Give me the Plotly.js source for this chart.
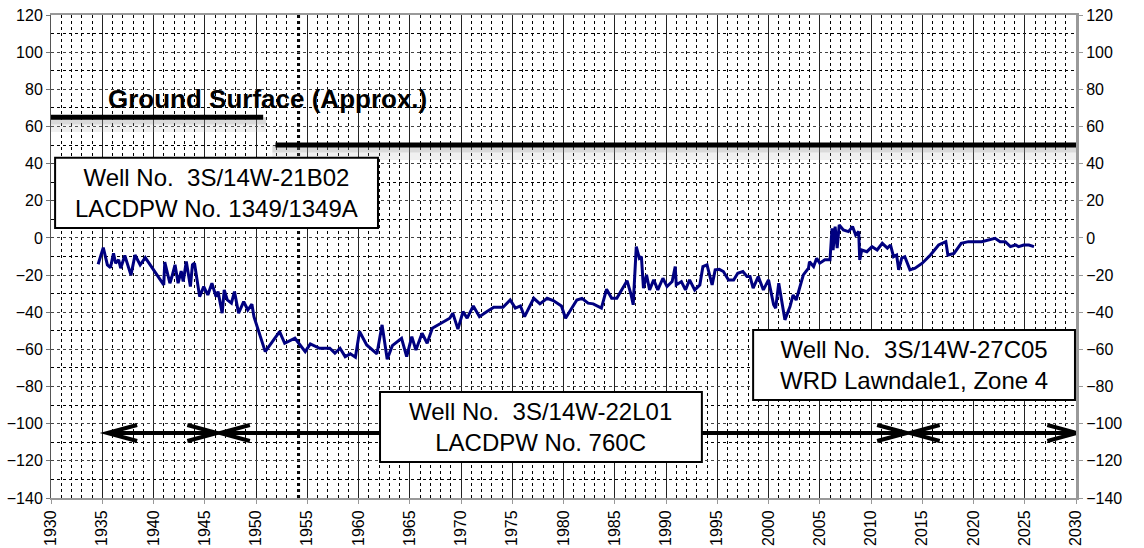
<!DOCTYPE html>
<html>
<head>
<meta charset="utf-8">
<script src="https://cdn.plot.ly/plotly-3.0.1.min.js"></script>
<style>
  html, body { margin: 0; padding: 0; background: #fff; }
  #hydrograph { width: 1144px; height: 548px; }
</style>
</head>
<body>
<div id="hydrograph"></div>
<script>
// water level readings (decimal year, elevation in ft)
var years = [
  1934.6, 1935.1, 1935.5, 1935.8, 1936.1, 1936.3, 1936.6, 1936.8, 1937.2, 1937.8,
  1938.2, 1938.7, 1939.2, 1939.8, 1941.0, 1941.1, 1941.6, 1941.8, 1942.1, 1942.4,
  1942.7, 1942.9, 1943.2, 1943.6, 1943.8, 1944.0, 1944.4, 1944.5, 1944.9, 1945.3,
  1945.7, 1946.1, 1946.3, 1946.7, 1946.9, 1947.2, 1947.6, 1947.9, 1948.3, 1948.8,
  1949.2, 1949.6, 1949.8, 1950.9, 1952.3, 1952.8, 1953.8, 1954.8, 1955.3, 1956.2,
  1957.2, 1957.7, 1958.2, 1958.7, 1959.2, 1959.7, 1960.1, 1960.8, 1961.8, 1962.3,
  1962.8, 1963.3, 1964.2, 1964.7, 1965.2, 1965.6, 1966.2, 1966.7, 1967.2, 1967.8,
  1968.4, 1968.9, 1969.2, 1969.7, 1970.2, 1970.6, 1971.2, 1971.8, 1972.5, 1973.2,
  1974.1, 1974.8, 1975.3, 1975.8, 1976.2, 1977.1, 1977.7, 1978.4, 1979.0, 1979.8,
  1980.2, 1980.8, 1981.3, 1981.8, 1982.4, 1982.9, 1983.7, 1984.2, 1984.7, 1985.2,
  1986.2, 1986.6, 1986.8, 1987.1, 1987.4, 1987.6, 1987.8, 1988.1, 1988.4, 1988.8,
  1989.2, 1989.7, 1990.1, 1990.6, 1990.9, 1991.0, 1991.5, 1991.9, 1992.3, 1992.8,
  1993.3, 1993.6, 1994.0, 1994.5, 1994.8, 1995.2, 1995.6, 1996.1, 1996.6, 1997.0,
  1997.5, 1997.9, 1998.2, 1998.5, 1999.0, 1999.5, 2000.0, 2000.5, 2000.7, 2001.0,
  2001.3, 2001.6, 2002.1, 2002.4, 2002.7, 2003.4, 2003.9, 2004.0, 2004.4, 2004.7,
  2005.0, 2005.5, 2006.0, 2006.2, 2006.3, 2006.5, 2006.7, 2006.9, 2007.3, 2007.8,
  2008.2, 2008.5, 2008.8, 2008.9, 2009.1, 2009.6, 2010.1, 2010.6, 2011.1, 2011.6,
  2011.9, 2012.2, 2012.5, 2012.7, 2013.0, 2013.3, 2013.8, 2014.3, 2015.0, 2015.8,
  2016.6, 2017.3, 2017.5, 2018.1, 2018.8, 2019.5, 2020.8, 2021.5, 2022.1, 2022.6,
  2023.1, 2023.6, 2024.1, 2024.4, 2024.9, 2025.4, 2025.9
];
var levels = [
  -14.2, -5.2, -14.5, -16, -8.3, -13.6, -11.8, -16.3, -9.5, -20,
  -9.2, -14.5, -10.6, -15.4, -25.3, -13, -24.4, -20.8, -14.5, -24.4,
  -17.8, -23.5, -12.7, -26.2, -14.5, -13.6, -27, -31.6, -26.2, -30.7,
  -24.4, -31.6, -28.9, -40.5, -28, -33.4, -35.1, -28.9, -40.5, -34.3,
  -38.8, -35.7, -42.4, -61.2, -50.4, -56.7, -54, -61.2, -57, -59.4,
  -59.4, -62, -59.4, -63.9, -62.4, -64.2, -50.4, -57.6, -62.4, -46.8,
  -65.3, -58, -54, -63.9, -53.1, -60.3, -51.3, -56.7, -48.6, -46.8,
  -45, -43.2, -40.5, -49.1, -39.7, -43.2, -36.6, -42.4, -39.7, -37.3,
  -37.3, -33.4, -37.8, -36.6, -42.4, -32.5, -35.5, -32.5, -33.7, -36.6,
  -43.2, -37.8, -33.4, -32.5, -35.1, -35.5, -37.8, -27.6, -32.5, -32.5,
  -23, -30.7, -36, -4.7, -10.9, -10.1, -27, -19.9, -28, -22.6,
  -28, -21.7, -26.2, -23.5, -15.4, -25.3, -23.5, -28, -22.6, -28,
  -25.3, -15.4, -14.5, -25.3, -17.2, -16.9, -18.1, -22.6, -22.6, -19,
  -18.1, -20.8, -20.8, -27, -20.8, -28, -22.6, -36, -37.8, -24.4,
  -33.4, -44.1, -37, -30.7, -33.4, -19.9, -16.3, -12.8, -15.4, -10.9,
  -13.6, -11.8, -11.8, 5.2, -6.5, 6.1, -5.5, 7, 4.3, 3.4,
  6.1, 1.6, 3.4, -11.8, -6.5, -7.4, -4.7, -6.5, -2.9, -5.5,
  -3.8, -10.1, -9.2, -17.2, -10.9, -10.1, -17.2, -16.3, -13.6, -9.2,
  -3.8, -2, -9.2, -8.3, -2.9, -2, -2, -1.1, -0.2, -2,
  -2, -4.7, -3.8, -4.7, -3.8, -3.8, -4.7
];

// approximate ground surface elevation
var groundFrom = [1930, 1951.9];
var groundTo = [1950.7, 2030];
var groundElev = [65, 50];

// periods of record for each well
var periodFrom = [1935.5, 1946.5, 2013.8];
var periodTo = [1946.2, 2013.5, 2030.1];

var wellLabels = [
  'Well No.\u00a0\u00a03S/14W-21B02<br>LACDPW No. 1349/1349A',
  'Well No.\u00a0\u00a03S/14W-22L01<br>LACDPW No. 760C',
  'Well No.\u00a0\u00a03S/14W-27C05<br>WRD Lawndale1, Zone 4'
];

var fontFam = 'Arial, "Liberation Sans", sans-serif';

var trace1 = {
  x: years,
  y: levels,
  type: 'scatter',
  mode: 'lines',
  line: { color: '#000080', width: 3 },
  hoverinfo: 'x+y',
};

// invisible trace so the right axis is drawn
var trace2 = {
  x: [1930],
  y: [0],
  yaxis: 'y2',
  type: 'scatter',
  mode: 'markers',
  marker: { opacity: 0 },
  hoverinfo: 'skip',
};

var shapes = [];

// heavy dotted marker line
shapes.push({
  type: 'line', xref: 'x', yref: 'paper', x0: 1954.2, x1: 1954.2, y0: 0, y1: 1,
  line: { color: '#000', width: 2, dash: 'dot' }, layer: 'below',
});

for (var i = 0; i < groundElev.length; i++) {
  shapes.push({
    type: 'rect', xref: 'x', yref: 'y',
    x0: groundFrom[i] - 0.3, x1: groundTo[i] + 0.3,
    y0: groundElev[i] - 4, y1: groundElev[i],
    fillcolor: 'rgba(150,150,150,0.35)', line: { width: 0 }, layer: 'above',
  });
  shapes.push({
    type: 'rect', xref: 'x', yref: 'y',
    x0: groundFrom[i] - 0.3, x1: groundTo[i] + 0.3,
    y0: groundElev[i] - 8, y1: groundElev[i] - 4,
    fillcolor: 'rgba(170,170,170,0.18)', line: { width: 0 }, layer: 'above',
  });
  shapes.push({
    type: 'line', xref: 'x', yref: 'y',
    x0: groundFrom[i], x1: groundTo[i], y0: groundElev[i], y1: groundElev[i],
    line: { color: '#000', width: 5 }, layer: 'above',
  });
}

var arrowY = -105;
var headLen = 2.9;
var headH = 4.3;
for (var j = 0; j < periodFrom.length; j++) {
  var a = periodFrom[j];
  var b = periodTo[j];
  var p = 'M ' + a + ' ' + arrowY + ' L ' + b + ' ' + arrowY +
    ' M ' + (a + headLen) + ' ' + (arrowY + headH) + ' L ' + a + ' ' + arrowY +
    ' L ' + (a + headLen) + ' ' + (arrowY - headH) +
    ' M ' + (b - headLen) + ' ' + (arrowY + headH) + ' L ' + b + ' ' + arrowY +
    ' L ' + (b - headLen) + ' ' + (arrowY - headH);
  shapes.push({
    type: 'path', xref: 'x', yref: 'y', path: p,
    line: { color: '#000', width: 4 }, layer: 'above',
  });
}

// label boxes
var boxX0 = [1930.4, 1962.1, 1998.5];
var boxX1 = [1961.9, 1993.5, 2029.9];
var boxY0 = [5.4, -120.6, -87.2];
var boxY1 = [43.1, -82.9, -49.5];
var annotations = [];
for (var k = 0; k < wellLabels.length; k++) {
  shapes.push({
    type: 'rect', xref: 'x', yref: 'y',
    x0: boxX0[k], x1: boxX1[k], y0: boxY0[k], y1: boxY1[k],
    fillcolor: '#fff', line: { color: '#000', width: 2 }, layer: 'above',
  });
  annotations.push({
    xref: 'x', yref: 'y',
    x: (boxX0[k] + boxX1[k]) / 2, y: (boxY0[k] + boxY1[k]) / 2,
    text: wellLabels[k], showarrow: false,
    font: { family: fontFam, size: 24, color: '#000' },
    align: 'center',
  });
}

annotations.push({
  xref: 'x', yref: 'y', x: 1951.1, y: 75,
  text: '<b>Ground Surface (Approx.)</b>', showarrow: false,
  font: { family: fontFam, size: 26, color: '#000' },
});

var layout = {
  width: 1144,
  height: 548,
  margin: { l: 51, r: 68, t: 15, b: 50, pad: 0 },
  paper_bgcolor: '#fff',
  plot_bgcolor: '#fff',
  showlegend: false,
  font: { family: fontFam, size: 16, color: '#000' },
  xaxis: {
    range: [1930, 2030],
    tick0: 1930, dtick: 5,
    tickangle: -90,
    tickfont: { family: fontFam, size: 16, color: '#000' },
    showgrid: true, gridcolor: '#222', gridwidth: 1,
    minor: { dtick: 1, showgrid: true, gridcolor: '#000', griddash: 'dot', gridwidth: 1 },
    showline: true, linecolor: '#999', linewidth: 2, mirror: true,
    ticks: 'outside', ticklen: 4, tickcolor: '#999',
    zeroline: false,
    automargin: false,
  },
  yaxis: {
    range: [-140, 120],
    tick0: -140, dtick: 20,
    tickfont: { family: fontFam, size: 16, color: '#000' },
    showgrid: true, gridcolor: '#444', griddash: 'dot', gridwidth: 1,
    minor: { dtick: 10, showgrid: true, gridcolor: '#000', griddash: 'dot', gridwidth: 1 },
    showline: true, linecolor: '#555', linewidth: 1,
    ticks: 'outside', ticklen: 4, tickcolor: '#777',
    zeroline: false,
    automargin: false,
  },
  yaxis2: {
    range: [-140, 120],
    tick0: -140, dtick: 20,
    overlaying: 'y', side: 'right',
    tickfont: { family: fontFam, size: 16, color: '#000' },
    showgrid: false,
    showline: true, linecolor: '#999', linewidth: 3,
    ticks: 'outside', ticklen: 4, tickcolor: '#999',
    zeroline: false,
    automargin: false,
  },
  shapes: shapes,
  annotations: annotations,
};

Plotly.newPlot('hydrograph', [trace1, trace2], layout, {
  displayModeBar: false,
  responsive: false,
});
</script>
</body>
</html>
